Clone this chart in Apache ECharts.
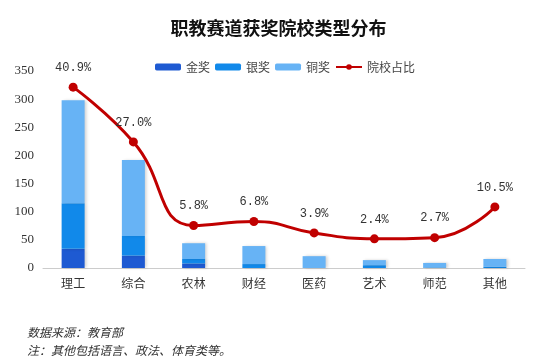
<!DOCTYPE html>
<html>
<head>
<meta charset="utf-8">
<script src="https://cdn.jsdelivr.net/npm/echarts@6/dist/echarts.min.js"></script>
<style>
html,body{margin:0;padding:0;background:#fff;}
#main{width:557px;height:363px;}
</style>
</head>
<body>
<div id="main"></div>
<script>
const categories = ['理工', '综合', '农林', '财经', '医药', '艺术', '师范', '其他'];
const gold = [34, 22, 8, 0, 0, 0, 0, 0];
const silver = [81, 35, 8, 7, 0, 5, 1, 2];
const bronze = [183, 135, 28, 32, 21, 9, 8, 14];
const share = [40.9, 27.0, 5.8, 6.8, 3.9, 2.4, 2.7, 10.5];
const yTicks = [0, 50, 100, 150, 200, 250, 300, 350];

const chart = echarts.init(document.getElementById('main'), null, {renderer: 'canvas'});
const cjk = "'Noto Sans CJK SC', 'Noto Sans', sans-serif";
const barShadow = {shadowColor: 'rgba(0,0,0,0.18)', shadowBlur: 3, shadowOffsetX: 2};
chart.setOption({
  animation: false,
  backgroundColor: '#fff',
  title: {
    text: '职教赛道获奖院校类型分布',
    left: 'center',
    top: 14,
    textStyle: {fontFamily: cjk, fontSize: 18, fontWeight: 'bold', color: '#111'}
  },
  legend: {
    top: 56,
    left: 150,
    itemWidth: 26,
    itemHeight: 7,
    itemGap: 5,
    textStyle: {fontFamily: cjk, fontSize: 12, color: '#444'},
    data: ['金奖', '银奖', '铜奖', '院校占比']
  },
  grid: {left: 43, right: 32, top: 71, bottom: 95},
  xAxis: {
    type: 'category',
    data: categories,
    axisLine: {lineStyle: {color: '#ccc'}},
    axisTick: {show: false},
    axisLabel: {fontFamily: cjk, fontSize: 12, color: '#333', margin: 9}
  },
  yAxis: [{
    type: 'value',
    min: yTicks[0],
    max: yTicks[yTicks.length - 1],
    interval: 50,
    axisLine: {show: false},
    axisTick: {show: false},
    splitLine: {show: false},
    axisLabel: {fontFamily: "'Liberation Serif', serif", fontSize: 13, color: '#333', margin: 9}
  }, {
    type: 'value',
    min: -5,
    max: 45,
    show: false,
    splitLine: {show: false}
  }],
  series: [{
    name: '金奖', type: 'bar', stack: 'a', barWidth: 23,
    itemStyle: Object.assign({color: '#1E5AD2'}, barShadow),
    data: gold
  }, {
    name: '银奖', type: 'bar', stack: 'a', barWidth: 23,
    itemStyle: Object.assign({color: '#1189EA'}, barShadow),
    data: silver
  }, {
    name: '铜奖', type: 'bar', stack: 'a', barWidth: 23,
    itemStyle: Object.assign({color: '#67B3F5'}, barShadow),
    data: bronze
  }, {
    name: '院校占比', type: 'line', yAxisIndex: 1, smooth: true,
    symbol: 'circle', symbolSize: 9,
    lineStyle: {color: '#C00000', width: 3},
    itemStyle: {color: '#C00000'},
    label: {
      show: true, position: 'top', distance: 9,
      fontFamily: "'Liberation Mono', monospace", fontSize: 12, color: '#333',
      formatter: p => p.value.toFixed(1) + '%'
    },
    data: share
  }],
  graphic: [{
    type: 'text', left: 27, top: 326,
    style: {text: '数据来源：教育部', fontFamily: cjk, fontSize: 12, fontStyle: 'italic', fill: '#333'}
  }, {
    type: 'text', left: 27, top: 344,
    style: {text: '注：其他包括语言、政法、体育类等。', fontFamily: cjk, fontSize: 12, fontStyle: 'italic', fill: '#333'}
  }]
});
</script>
</body>
</html>
